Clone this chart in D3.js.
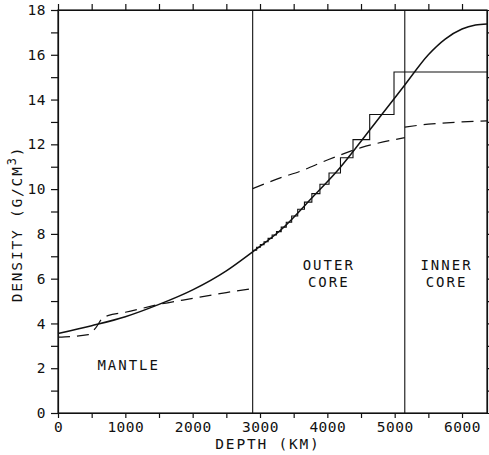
<!DOCTYPE html>
<html>
<head>
<meta charset="utf-8">
<script src="https://cdn.jsdelivr.net/npm/d3@7"></script>
<style>
    body { margin: 0; background: #fff; }
    svg { display: block; }
    .axis text { font-family: "DejaVu Sans Mono", monospace; font-size: 14.5px; fill: #111; letter-spacing: 0.5px; }
    .axis path, .axis line { stroke: #111; stroke-width: 1.2px; }
    .label { font-family: "DejaVu Sans Mono", monospace; font-size: 14px; fill: #111; letter-spacing: 2px; }
    .title { font-family: "DejaVu Sans Mono", monospace; font-size: 14.5px; fill: #111; letter-spacing: 1.8px; }
</style>
</head>
<body>
<div id="chart"></div>
<script>
// Smooth density curve (solid line)
const smoothDepth = [0, 500, 1000, 1500, 2000, 2500, 2891, 3300, 3800, 4200, 4400, 4800, 5150, 5500, 5750, 6000, 6200, 6371];
const smoothDensity = [3.55, 3.9, 4.3, 4.85, 5.5, 6.35, 7.2, 8.15, 9.7, 11.0, 11.75, 13.3, 14.65, 16.0, 16.7, 17.15, 17.33, 17.38];

// Reference model (dashed line), split at the boundaries
const mantleDepth = [0, 450, 560, 650, 740, 1000, 1500, 2000, 2500, 2891];
const mantleDensity = [3.39, 3.5, 3.8, 4.2, 4.35, 4.5, 4.85, 5.12, 5.38, 5.56];
const outerDepth = [2891, 3300, 3600, 4000, 4500, 5150];
const outerDensity = [10.02, 10.5, 10.8, 11.3, 11.85, 12.3];
const innerDepth = [5150, 5500, 6000, 6371];
const innerDensity = [12.77, 12.9, 13.0, 13.05];

// Layered model (staircase): layer tops and constant densities
const stepTop = [2891, 2950, 3005, 3060, 3120, 3180, 3245, 3315, 3390, 3470, 3560, 3660, 3770, 3890, 4025, 4195, 4381, 4629, 4990];
const stepBottom = 6371;
const stepDensity = [7.27, 7.4, 7.52, 7.65, 7.8, 7.95, 8.1, 8.3, 8.52, 8.8, 9.1, 9.42, 9.8, 10.22, 10.72, 11.4, 12.21, 13.33, 15.23];

// Region boundaries and names
const boundaries = [2891, 5150];
const regionLabels = [
    {lines: ["MANTLE"], depth: 1050, density: 1.9},
    {lines: ["OUTER", "CORE"], depth: 2891 + 1130, density: 6.4},
    {lines: ["INNER", "CORE"], depth: 5770, density: 6.4}
];

const xTicks = d3.range(0, 6371, 500);
const yTicks = d3.range(0, 19, 1);

// SVG size
const width_raw = 489,
    height_raw = 455;
const margin = {top: 10, right: 2, bottom: 42, left: 58};
let width = width_raw - margin.left - margin.right,
    height = height_raw - margin.top - margin.bottom;

let svg = d3.select("#chart")
    .append("svg")
    .attr("width", width_raw)
    .attr("height", height_raw)
    .append("g")
    .attr("transform", `translate(${margin.left}, ${margin.top})`);

// Scales
let depthScale = d3.scaleLinear()
    .domain([0, 6371])
    .range([0, width]);

let densityScale = d3.scaleLinear()
    .domain([0, 18])
    .range([height, 0]);

// Axes
let xAxis = d3.axisBottom(depthScale)
    .tickValues(xTicks)
    .tickSize(5)
    .tickSizeOuter(0)
    .tickFormat(d => d % 1000 === 0 ? d : "");

let yAxis = d3.axisLeft(densityScale)
    .tickValues(yTicks)
    .tickSize(7)
    .tickSizeOuter(0)
    .tickFormat(d => d % 2 === 0 ? d : "");

let xGroup = svg.append("g")
    .attr("class", "axis x-axis")
    .attr("transform", `translate(0, ${height})`)
    .call(xAxis);
xGroup.selectAll("text").attr("dy", "0.78em");

svg.append("g")
    .attr("class", "axis y-axis")
    .call(yAxis)
    .selectAll("text")
    .attr("x", -12);

// Top and right ticks, no labels
svg.append("g")
    .attr("class", "axis")
    .call(d3.axisTop(depthScale).tickValues(xTicks).tickSize(6).tickSizeOuter(0).tickFormat(""));

svg.append("g")
    .attr("class", "axis")
    .attr("transform", `translate(${width}, 0)`)
    .call(d3.axisRight(densityScale).tickValues(yTicks).tickSize(4).tickSizeOuter(0).tickFormat(""));

// Boundary lines
svg.selectAll(".boundary")
    .data(boundaries)
    .enter()
    .append("line")
    .attr("class", "boundary")
    .attr("x1", d => depthScale(d))
    .attr("x2", d => depthScale(d))
    .attr("y1", 0)
    .attr("y2", height)
    .attr("stroke", "#111")
    .attr("stroke-width", 1.1);

let line = d3.line()
    .x(d => depthScale(d[0]))
    .y(d => densityScale(d[1]))
    .curve(d3.curveMonotoneX);

// Staircase
let steps = [];
stepTop.forEach((t, i) => {
    let b = i < stepTop.length - 1 ? stepTop[i + 1] : stepBottom;
    steps.push([t, stepDensity[i]], [b, stepDensity[i]]);
});
svg.append("path")
    .datum(steps)
    .attr("fill", "none")
    .attr("stroke", "#111")
    .attr("stroke-width", 1.1)
    .attr("d", d3.line().x(d => depthScale(d[0])).y(d => densityScale(d[1])));

// Dashed reference model
[[mantleDepth, mantleDensity], [outerDepth, outerDensity], [innerDepth, innerDensity]].forEach(([dep, den]) => {
    svg.append("path")
        .datum(d3.zip(dep, den))
        .attr("fill", "none")
        .attr("stroke", "#111")
        .attr("stroke-width", 1.2)
        .attr("stroke-dasharray", "12,7")
        .attr("d", line);
});

// Smooth curve
svg.append("path")
    .datum(d3.zip(smoothDepth, smoothDensity))
    .attr("fill", "none")
    .attr("stroke", "#111")
    .attr("stroke-width", 1.5)
    .attr("d", d3.line().x(d => depthScale(d[0])).y(d => densityScale(d[1])).curve(d3.curveMonotoneX));

// Frame
svg.append("rect")
    .attr("width", width)
    .attr("height", height)
    .attr("fill", "none")
    .attr("stroke", "#111")
    .attr("stroke-width", 1.2);

// Region labels
regionLabels.forEach(r => {
    let t = svg.append("text")
        .attr("class", "label")
        .attr("text-anchor", "middle")
        .attr("x", depthScale(r.depth))
        .attr("y", densityScale(r.density));
    r.lines.forEach((s, i) => {
        t.append("tspan")
            .attr("x", depthScale(r.depth))
            .attr("dy", i === 0 ? 0 : 17)
            .text(s);
    });
});

// Axis titles
svg.append("text")
    .attr("class", "title")
    .attr("text-anchor", "middle")
    .attr("x", 210)
    .attr("y", height + 36)
    .text("DEPTH (KM)");

let yTitle = svg.append("text")
    .attr("class", "title")
    .attr("text-anchor", "middle")
    .attr("transform", `translate(-36, 214) rotate(-90)`);
yTitle.append("tspan").text("DENSITY (G/CM");
yTitle.append("tspan").attr("dy", -6).attr("font-size", "12px").text("3");
yTitle.append("tspan").attr("dy", 6).text(")");
</script>
</body>
</html>
